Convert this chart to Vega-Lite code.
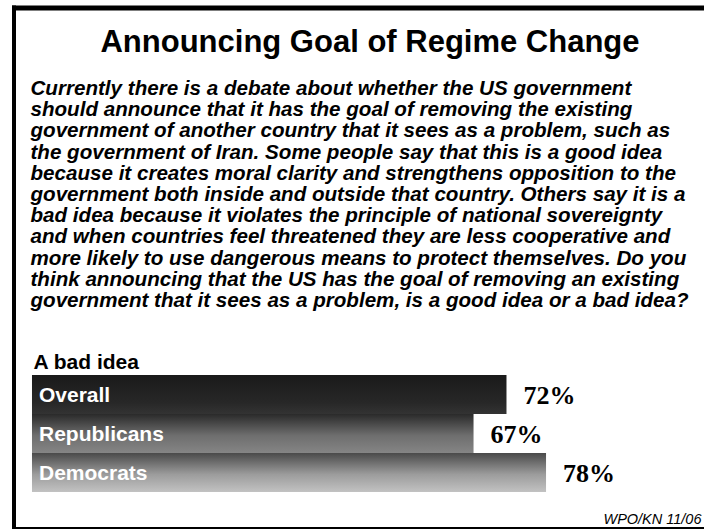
{
  "$schema": "https://vega.github.io/schema/vega-lite/v6.json",
  "width": 690,
  "height": 520,
  "autosize": {"type": "none"},
  "padding": {"left": 14, "top": 7.5, "right": 0, "bottom": 1.5},
  "background": "white",
  "title": {
    "text": "Announcing Goal of Regime Change",
    "anchor": "middle",
    "frame": "group",
    "orient": "top",
    "baseline": "top",
    "offset": -54,
    "dx": 11,
    "font": "Liberation Sans",
    "fontSize": 31,
    "fontWeight": "bold",
    "color": "black"
  },
  "data": {
    "values": [
      {"group": "Overall", "share": 0.72},
      {"group": "Republicans", "share": 0.67},
      {"group": "Democrats", "share": 0.78}
    ]
  },
  "resolve": {"axis": {"x": "independent", "y": "independent"}},
  "layer": [
    {
      "transform": [{"filter": "datum.group === 'Overall'"}],
      "mark": {
        "type": "bar",
        "color": {"gradient": "linear", "x1": 0, "y1": 0, "x2": 0, "y2": 1,
          "stops": [{"offset": 0, "color": "#1a1a1a"}, {"offset": 0.7, "color": "#272727"}, {"offset": 1, "color": "#333333"}]}
      },
      "encoding": {
        "y": {
          "field": "group",
          "type": "nominal",
          "sort": null,
          "scale": {"domain": ["Overall", "Republicans", "Democrats"], "range": [367.5, 484.5], "paddingInner": 0, "paddingOuter": 0},
          "axis": {
            "orient": "left",
            "labels": false,
            "ticks": false,
            "grid": false,
            "domain": false,
            "title": "A bad idea",
            "titleAngle": 0,
            "titleAlign": "left",
            "titleBaseline": "alphabetic",
            "titleX": 19,
            "titleY": 360.8,
            "titleFont": "Liberation Sans",
            "titleFontSize": 21,
            "titleFontWeight": "bold",
            "titleColor": "black"
          }
        },
        "x": {
          "field": "share",
          "type": "quantitative",
          "scale": {"domain": [-0.0273, 1.0197], "nice": false, "zero": false},
          "axis": {
            "orient": "top",
            "labels": false,
            "ticks": false,
            "grid": false,
            "domain": true,
            "domainColor": "black",
            "domainWidth": 5,
            "domainCap": "square",
            "title": [
              "Currently there is a debate about whether the US government",
              "should announce that it has the goal of removing the existing",
              "government of another country that it sees as a problem, such as",
              "the government of Iran.  Some people say that this is a good idea",
              "because it creates moral clarity and strengthens opposition to the",
              "government both inside and outside that country. Others say it is a",
              "bad idea because it violates the principle of national sovereignty",
              "and when countries feel threatened they are less cooperative and",
              "more likely to use dangerous means to protect themselves. Do you",
              "think announcing that the US has the goal of removing an existing",
              "government that it sees as a problem, is a good idea or a bad idea?"
            ],
            "titleAlign": "left",
            "titleAnchor": "start",
            "titleBaseline": "alphabetic",
            "titleX": 16,
            "titleY": 87,
            "titleFont": "Liberation Sans",
            "titleFontSize": 20.6,
            "titleFontWeight": "bold",
            "titleFontStyle": "italic",
            "titleLineHeight": 21.2,
            "titleLimit": 2000,
            "titleColor": "black"
          }
        }
      }
    },
    {
      "transform": [{"filter": "datum.group === 'Republicans'"}],
      "mark": {
        "type": "bar",
        "color": {"gradient": "linear", "x1": 0, "y1": 0, "x2": 0, "y2": 1,
          "stops": [{"offset": 0, "color": "#2a2a2a"}, {"offset": 0.55, "color": "#6e6e6e"}, {"offset": 1, "color": "#858585"}]}
      },
      "encoding": {
        "y": {"field": "group", "type": "nominal", "sort": null, "scale": {"domain": ["Overall", "Republicans", "Democrats"], "range": [367.5, 484.5], "paddingInner": 0, "paddingOuter": 0}, "axis": null},
        "x": {"field": "share", "type": "quantitative", "scale": {"domain": [-0.0273, 1.0197], "nice": false, "zero": false}, "axis": null}
      }
    },
    {
      "transform": [{"filter": "datum.group === 'Democrats'"}],
      "mark": {
        "type": "bar",
        "color": {"gradient": "linear", "x1": 0, "y1": 0, "x2": 0, "y2": 1,
          "stops": [{"offset": 0, "color": "#4a4a4a"}, {"offset": 0.55, "color": "#9c9c9c"}, {"offset": 1, "color": "#c2c2c2"}]}
      },
      "encoding": {
        "y": {"field": "group", "type": "nominal", "sort": null, "scale": {"domain": ["Overall", "Republicans", "Democrats"], "range": [367.5, 484.5], "paddingInner": 0, "paddingOuter": 0}, "axis": null},
        "x": {"field": "share", "type": "quantitative", "scale": {"domain": [-0.0273, 1.0197], "nice": false, "zero": false}, "axis": null}
      }
    },
    {
      "transform": [{"filter": "datum.group === 'Overall'"}],
      "mark": {"type": "rule", "color": "black", "strokeWidth": 4, "strokeCap": "square"},
      "encoding": {
        "x": {"datum": -0.0273, "type": "quantitative", "scale": {"domain": [-0.0273, 1.0197], "nice": false, "zero": false}, "axis": null}
      }
    },
    {
      "mark": {"type": "text", "align": "left", "baseline": "middle", "dx": 7, "dy": 1, "font": "Liberation Sans", "fontSize": 21, "fontWeight": "bold", "color": "white"},
      "encoding": {
        "y": {"field": "group", "type": "nominal", "sort": null, "scale": {"domain": ["Overall", "Republicans", "Democrats"], "range": [367.5, 484.5], "paddingInner": 0, "paddingOuter": 0}, "axis": null},
        "x": {
          "datum": 0,
          "type": "quantitative",
          "scale": {"domain": [-0.0273, 1.0197], "nice": false, "zero": false},
          "axis": {
            "orient": "bottom",
            "labels": false,
            "ticks": false,
            "grid": false,
            "domain": true,
            "domainColor": "black",
            "domainWidth": 2,
            "title": "WPO/KN 11/06",
            "titleAlign": "right",
            "titleBaseline": "alphabetic",
            "titleX": 687,
            "titleY": -4,
            "titleFont": "Liberation Sans",
            "titleFontSize": 14.5,
            "titleFontWeight": "normal",
            "titleFontStyle": "italic",
            "titleColor": "black"
          }
        },
        "text": {"field": "group", "type": "nominal"}
      }
    },
    {
      "mark": {"type": "text", "align": "left", "baseline": "middle", "dx": 17, "dy": 1, "font": "Liberation Serif", "fontSize": 26, "fontWeight": "bold", "color": "black"},
      "encoding": {
        "y": {"field": "group", "type": "nominal", "sort": null, "scale": {"domain": ["Overall", "Republicans", "Democrats"], "range": [367.5, 484.5], "paddingInner": 0, "paddingOuter": 0}, "axis": null},
        "x": {"field": "share", "type": "quantitative", "scale": {"domain": [-0.0273, 1.0197], "nice": false, "zero": false}, "axis": null},
        "text": {"field": "share", "type": "quantitative", "format": ".0%"}
      }
    }
  ],
  "config": {"view": {"stroke": null}}
}
